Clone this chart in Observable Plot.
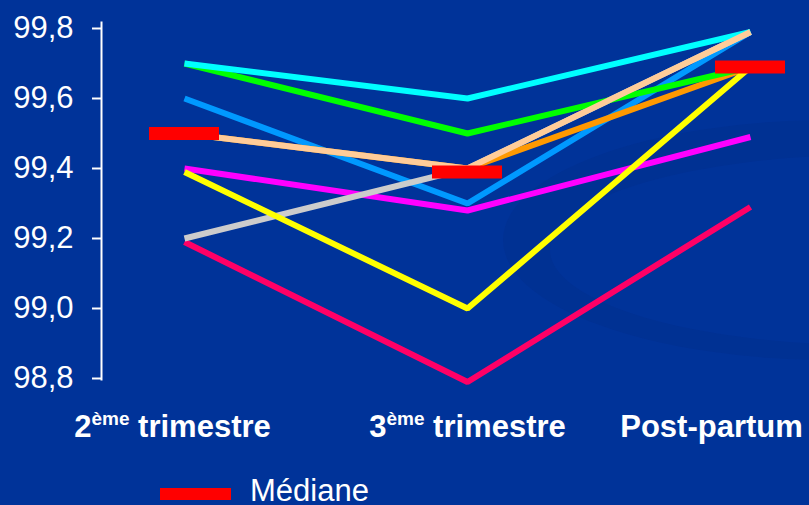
<!DOCTYPE html>
<html lang="fr">
<head>
<meta charset="utf-8">
<script src="https://cdn.jsdelivr.net/npm/d3@7"></script>
<script src="https://cdn.jsdelivr.net/npm/@observablehq/plot@0.6"></script>
<style>
  html, body { margin: 0; padding: 0; background: #003399; }
  #page { position: relative; width: 809px; height: 505px; overflow: hidden; background: #003399;
          font-family: "Liberation Sans", Arial, sans-serif; color: white; }
  #swoosh { position: absolute; left: 0; top: 0; }
  #chart { position: relative; }
  #legend { position: relative; height: 35px; }
  #legend .swatch { position: absolute; left: 160px; top: 18px; width: 71px; height: 12px; background: #ff0000; }
  #legend .label { position: absolute; left: 250px; top: 5px; font-size: 31px; line-height: 31px; }
</style>
</head>
<body>
<div id="page">
  <svg id="swoosh" width="809" height="505">
    <path fill="#003193" fill-rule="evenodd"
      d="M503,240 A327,120 0 1,0 1157,240 A327,120 0 1,0 503,240 Z
         M550,250 A320,95 0 1,0 1190,250 A320,95 0 1,0 550,250 Z"/>
  </svg>
  <div id="chart"></div>
  <div id="legend"><span class="swatch"></span><span class="label">Médiane</span></div>
</div>
<script>
// Periods on the x axis (label parts: base, superscript, rest)
const periods = ["2ème trimestre", "3ème trimestre", "Post-partum"];
const periodBase = ["2", "3", "Post-partum"];
const periodSup = ["ème", "ème", ""];
const periodRest = [" trimestre", " trimestre", ""];

// Individual series, listed in drawing order (bottom first)
const seriesNames = ["rose", "bleu", "magenta", "gris", "orange", "vert", "cyan", "saumon", "jaune"];
const seriesColors = ["#ff0066", "#0099ff", "#ff00ff", "#cccccc", "#ff9900", "#00ff00", "#00ffff", "#ffcc99", "#ffff00"];
const rose    = [99.19, 98.79, 99.29];
const bleu    = [99.60, 99.30, 99.79];
const magenta = [99.40, 99.28, 99.49];
const gris    = [99.20, 99.40, 99.79];
const orange  = [99.50, 99.40, 99.69];
const vert    = [99.70, 99.50, 99.69];
const cyan    = [99.70, 99.60, 99.79];
const saumon  = [99.50, 99.40, 99.79];
const jaune   = [99.39, 99.00, 99.69];

// Median per period
const mediane = [99.50, 99.39, 99.69];

// Y axis ticks
const yTicks = [98.8, 99.0, 99.2, 99.4, 99.6, 99.8];

const seriesValues = [rose, bleu, magenta, gris, orange, vert, cyan, saumon, jaune];
const rows = seriesNames.flatMap((name, s) =>
  periods.map((p, i) => ({series: name, period: p, value: seriesValues[s][i]}))
);
const medians = periods.map((p, i) => ({period: p, value: mediane[i]}));

const fmt = (d) => d.toFixed(1).replace(".", ",");

const chart = Plot.plot({
  width: 809,
  height: 470,
  marginTop: 22,
  marginBottom: 91,
  marginLeft: 101,
  marginRight: 0,
  style: {background: "transparent", color: "white", fontFamily: "'Liberation Sans', Arial, sans-serif", overflow: "visible"},
  x: {type: "point", domain: periods, range: [183, 750], padding: 0, axis: null},
  y: {domain: [98.8, 99.8], range: [378, 28], axis: null},
  color: {domain: seriesNames, range: seriesColors},
  marks: [
    Plot.frame({anchor: "left", stroke: "white", strokeWidth: 2}),
    Plot.axisY(yTicks, {tickSize: 9, tickPadding: 19, tickFormat: fmt, fontSize: 31, stroke: "white", strokeWidth: 2, label: null}),
    Plot.axisX(periods, {tickSize: 0, tickPadding: 35, fontSize: 31, fontWeight: "bold", label: null}),
    Plot.line(rows, {x: "period", y: "value", z: "series", stroke: "series",
      strokeWidth: 6, strokeLinejoin: "miter", strokeLinecap: "butt"}),
    Plot.ruleY(medians, {x1: "period", x2: "period", y: "value",
      insetLeft: -35, insetRight: -35, stroke: "#ff0000", strokeWidth: 13})
  ]
});

// Category labels with superscript ordinal suffix
const labelNudge = [-12, 0, -39];
d3.select(chart).selectAll('g[aria-label="x-axis tick label"] text').each(function (d, i) {
  const t = d3.select(this);
  t.text(null).attr("dx", labelNudge[i]);
  t.append("tspan").text(periodBase[i]);
  if (periodSup[i]) {
    t.append("tspan").attr("font-size", 19).attr("dy", -12).text(periodSup[i]);
    t.append("tspan").attr("dy", 12).text(periodRest[i]);
  }
});

document.getElementById("chart").appendChild(chart);
</script>
</body>
</html>
